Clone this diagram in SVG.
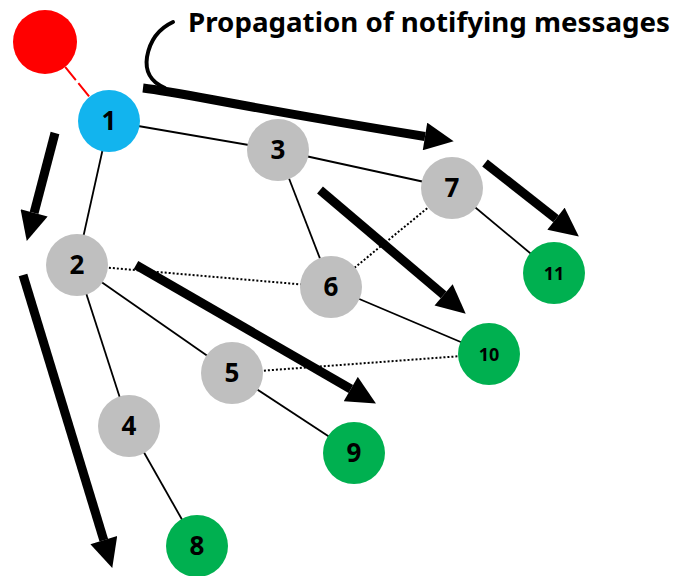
<svg xmlns="http://www.w3.org/2000/svg" width="681" height="576" viewBox="0 0 681 576">
<defs>
<marker id="ah" markerUnits="userSpaceOnUse" markerWidth="30" markerHeight="28" refX="0" refY="13.5" orient="auto" viewBox="0 0 28 27">
<path d="M0,0 L28,13.5 L0,27 z" fill="#000"/>
</marker>
<style>
.e{stroke:#000;stroke-width:1.8;fill:none}
.d{stroke:#000;stroke-width:2;stroke-dasharray:2 2;fill:none}
.a{stroke:#000;stroke-width:9;fill:none;marker-end:url(#ah)}
.g{fill:#BFBFBF}
.gr{fill:#00B050}
.t{font-family:"Noto Sans","Liberation Sans",sans-serif;font-weight:bold;text-anchor:middle;fill:#000}
.big{font-size:26px}
.sm{font-size:18px}
</style>
</defs>
<rect width="681" height="576" fill="#fff"/>
<g id="connectors">
<line x1="45" y1="42" x2="109" y2="121" stroke="#FF0000" stroke-width="2" stroke-dasharray="17 4" stroke-dashoffset="10"/>
<line class="e" x1="109" y1="121" x2="278" y2="150"/>
<line class="e" x1="278" y1="150" x2="452" y2="188"/>
<line class="e" x1="109" y1="121" x2="77" y2="265"/>
<line class="e" x1="278" y1="150" x2="331" y2="287"/>
<line class="d" x1="452" y1="188" x2="331" y2="287"/>
<line class="e" x1="452" y1="188" x2="554" y2="273"/>
<line class="d" x1="77" y1="265" x2="331" y2="287"/>
<line class="e" x1="77" y1="265" x2="232" y2="373"/>
<line class="e" x1="77" y1="265" x2="129" y2="426"/>
<line class="e" x1="331" y1="287" x2="489" y2="354"/>
<line class="d" x1="232" y1="373" x2="489" y2="354"/>
<line class="e" x1="232" y1="373" x2="354" y2="453"/>
<line class="e" x1="129" y1="426" x2="197" y2="546"/>
</g>
<g id="propagation-arrows">
<path class="a" d="M143,88 C185,93 230,105 425,136.5"/>
<path class="a" d="M55,133 L34.1,212.9"/>
<path class="a" d="M23,275 L103.8,540.2"/>
<path class="a" d="M136,265 L350.8,389"/>
<path class="a" d="M320,190 L443.6,294.9"/>
<path class="a" d="M485,163 L556,218.7"/>
</g>
<g id="title">
<path d="M173,22 C160,28 150,40 147,57 C145,70 150,82 165,88" stroke="#000" stroke-width="4" fill="none" stroke-linecap="round"/>
<text x="188" y="32" font-family="'Noto Sans','Liberation Sans',sans-serif" font-weight="bold" font-size="27" textLength="482" lengthAdjust="spacingAndGlyphs">Propagation of notifying messages</text>
</g>
<g id="node-source"><circle cx="45" cy="42" r="32" fill="#FF0000"/></g>
<g id="node-1"><circle cx="109" cy="121" r="31" fill="#12B4EE"/><text class="t big" x="109" y="130">1</text></g>
<g id="node-2"><circle class="g" cx="77" cy="265" r="31"/><text class="t big" x="77" y="274">2</text></g>
<g id="node-3"><circle class="g" cx="278" cy="150" r="31"/><text class="t big" x="278" y="159">3</text></g>
<g id="node-4"><circle class="g" cx="129" cy="426" r="31"/><text class="t big" x="129" y="435">4</text></g>
<g id="node-5"><circle class="g" cx="232" cy="373" r="31"/><text class="t big" x="232" y="382">5</text></g>
<g id="node-6"><circle class="g" cx="331" cy="287" r="31"/><text class="t big" x="331" y="296">6</text></g>
<g id="node-7"><circle class="g" cx="452" cy="188" r="31"/><text class="t big" x="452" y="197">7</text></g>
<g id="node-8"><circle class="gr" cx="197" cy="546" r="31"/><text class="t big" x="197" y="555">8</text></g>
<g id="node-9"><circle class="gr" cx="354" cy="453" r="31"/><text class="t big" x="354" y="462">9</text></g>
<g id="node-10"><circle class="gr" cx="489" cy="354" r="31"/><text class="t sm" x="489" y="360.5">10</text></g>
<g id="node-11"><circle class="gr" cx="554" cy="273" r="31"/><text class="t sm" x="554" y="279.5">11</text></g>
</svg>
